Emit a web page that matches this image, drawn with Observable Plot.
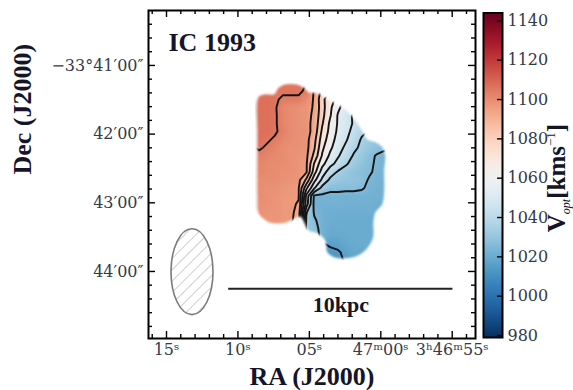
<!DOCTYPE html>
<html>
<head>
<meta charset="utf-8">
<script src="https://cdn.jsdelivr.net/npm/d3@7"></script>
<script src="https://cdn.jsdelivr.net/npm/@observablehq/plot@0.6"></script>
<style>
  html, body { margin: 0; padding: 0; background: #fff; }
  #wrap { position: relative; width: 573px; height: 390px; }
  #wrap svg { position: absolute; left: 0; top: 0; }
</style>
</head>
<body>
<div id="wrap"></div>
<script>
// ---------- data ----------
// RA in seconds after 3h46m (75 = 3h47m15s), Dec in arcmin south of -33°00'
const raTicks = [75, 70, 65, 60, 55];
const raTickLabels = ["15ˢ", "10ˢ", "05ˢ", "47ᵐ00ˢ", "3ʰ46ᵐ55ˢ"];
const raMinor = [54, 56, 57, 58, 59, 61, 62, 63, 64, 66, 67, 68, 69, 71, 72, 73, 74, 76];
const decTicks = [41, 42, 43, 44];
const decTickLabels = ["−33°41′00″", "42′00″", "43′00″", "44′00″"];
const decMinor = [40.4, 40.6, 40.8, 41.2, 41.4, 41.6, 41.8, 42.2, 42.4, 42.6, 42.8,
                  43.2, 43.4, 43.6, 43.8, 44.2, 44.4, 44.6, 44.8];
const raDomain = [76.26, 53.37];
const decDomain = [40.2, 44.976];

const velocityDomain = [979, 1144];
const colorbarTicks = [980, 1000, 1020, 1040, 1060, 1080, 1100, 1120, 1140];
const contourLevels = [1015, 1025, 1035, 1045, 1055, 1065, 1075, 1085, 1095, 1105];

// velocity grid (km/s), 17 columns (RA 68.8 -> 59.4) x 23 rows (Dec 41.2 -> 43.9)
const gridBounds = {ra1: 68.8, ra2: 59.4, dec1: 41.2, dec2: 43.9, cols: 17, rows: 23};
const _ = null;
const velocityRows = [
  [_, _, _, 1106, 1106, 1106, _, _, _, _, _, _, _, _, _, _, _],
  [1107, 1106, 1106, 1106, 1106, 1106, 1104, 1094, 1082, _, _, _, _, _, _, _, _],
  [1107, 1107, 1106, 1104, 1104, 1104, 1100, 1094, 1078, 1068, _, _, _, _, _, _, _],
  [1107, 1107, 1106, 1101, 1100, 1099, 1098, 1094, 1079, 1067, 1057, 1050, _, _, _, _, _],
  [1107, 1107, 1106, 1102, 1100, 1099, 1098, 1093, 1078, 1066, 1054, 1048, 1044, _, _, _, _],
  [1107, 1107, 1106, 1102, 1100, 1099, 1098, 1092, 1076, 1063, 1054, 1049, 1044, 1040, _, _, _],
  [1107, 1107, 1106, 1103, 1100, 1099, 1099, 1091, 1073, 1062, 1053, 1048, 1042, 1037, 1034, _, _],
  [1107, 1106, 1104, 1101, 1100, 1099, 1098, 1088, 1070, 1060, 1051, 1046, 1040, 1034, 1032, 1029, _],
  [1106, 1104, 1102, 1100, 1099, 1099, 1098, 1086, 1067, 1057, 1049, 1043, 1037, 1033, 1030, 1028, 1026],
  [1103, 1102, 1101, 1100, 1099, 1098, 1097, 1082, 1064, 1053, 1046, 1040, 1034, 1031, 1027, 1024, 1023],
  [1102, 1101, 1100, 1100, 1099, 1098, 1096, 1074, 1058, 1048, 1042, 1036, 1032, 1029, 1026, 1024, 1023],
  [1101, 1101, 1100, 1099, 1099, 1098, 1096, 1069, 1050, 1040, 1034, 1031, 1029, 1027, 1026, 1023, 1023],
  [1100, 1100, 1100, 1099, 1098, 1098, 1083, 1058, 1043, 1033, 1031, 1030, 1029, 1028, 1024, 1023, 1022],
  [1100, 1099, 1099, 1098, 1097, 1096, 1067, 1046, 1032, 1027, 1027, 1027, 1027, 1026, 1023, 1022, 1022],
  [1100, 1099, 1098, 1097, 1097, 1096, 1052, 1023, 1023, 1023, 1023, 1022, 1022, 1022, 1022, 1022, 1021],
  [1099, 1099, 1098, 1097, 1097, 1094, 1050, 1022, 1022, 1022, 1022, 1022, 1022, 1022, 1022, 1021, 1021],
  [1099, 1098, 1098, 1097, 1097, 1092, 1036, 1024, 1022, 1021, 1021, 1021, 1021, 1021, 1021, 1021, _],
  [1099, 1098, 1098, 1097, 1097, 1090, 1033, 1026, 1022, 1021, 1020, 1020, 1020, 1020, 1020, 1020, _],
  [_, _, _, _, _, 1090, 1032, 1028, 1022, 1020, 1020, 1020, 1020, 1020, 1020, _, _],
  [_, _, _, _, _, _, _, 1030, 1022, 1019, 1019, 1020, 1020, 1020, 1020, _, _],
  [_, _, _, _, _, _, _, _, 1014, 1016, 1017, 1019, 1020, 1020, 1020, _, _],
  [_, _, _, _, _, _, _, _, 1012, 1013, 1014, 1017, 1019, 1019, _, _, _],
  [_, _, _, _, _, _, _, _, _, 1012, 1013, 1016, 1017, _, _, _, _]
];

// outline of the detected emission (RA s, Dec arcmin)
const outlineRA  = [68.64, 68.50, 68.08, 67.45, 67.17, 66.75, 65.84, 65.35, 65.07, 64.37, 63.67, 62.97, 62.27, 61.71,
                    61.29, 60.94, 60.38, 59.90, 59.69, 59.76, 59.76, 59.90, 60.38, 60.52, 60.52, 60.87, 61.43, 62.13,
                    63.18, 63.74, 63.88, 64.37, 65.07, 65.35, 65.63, 66.12, 66.68, 67.73, 68.22, 68.57, 68.64, 68.64, 68.64];
const outlineDec = [41.51, 41.45, 41.42, 41.42, 41.33, 41.28, 41.28, 41.33, 41.39, 41.41, 41.50, 41.58, 41.68, 41.82,
                    41.96, 42.08, 42.12, 42.19, 42.31, 42.53, 42.82, 43.02, 43.14, 43.29, 43.49, 43.64, 43.75, 43.80,
                    43.80, 43.72, 43.55, 43.45, 43.40, 43.29, 43.20, 43.24, 43.29, 43.29, 43.23, 43.14, 42.89, 42.24, 41.95];

const beam = {ra: 73.18, dec: 44.01, widthRA: 2.94, heightDec: 1.25};
const scaleBar = [{ra1: 70.65, ra2: 54.95, dec: 44.25, label: "10kpc"}];
const galaxyName = "IC 1993";

// ---------- processing ----------
function fillGaps(rows) {
  let g = rows.map(r => r.slice());
  const h = g.length, w = g[0].length;
  let missing = true;
  while (missing) {
    missing = false;
    const next = g.map(r => r.slice());
    for (let j = 0; j < h; j++) for (let i = 0; i < w; i++) {
      if (g[j][i] != null) continue;
      let s = 0, n = 0;
      for (const [di, dj] of [[1,0],[-1,0],[0,1],[0,-1]]) {
        const a = i + di, b = j + dj;
        if (a >= 0 && a < w && b >= 0 && b < h && g[b][a] != null) { s += g[b][a]; n++; }
      }
      if (n) next[j][i] = s / n; else missing = true;
    }
    g = next;
  }
  return g.flat();
}
const velocity = fillGaps(velocityRows);
const outline = outlineRA.map((ra, i) => ({ra, dec: outlineDec[i]}));

const FONT = "'DejaVu Serif', 'Liberation Serif', serif";
const TITLE_FONT = "'Liberation Serif', 'DejaVu Serif', serif";
const INK = "#15152a";
const W = 573, H = 390;
const colorScale = {type: "linear", scheme: "rdbu", reverse: true, domain: velocityDomain};

const gridOpts = {
  width: gridBounds.cols, height: gridBounds.rows,
  x1: gridBounds.ra1, x2: gridBounds.ra2, y1: gridBounds.dec1, y2: gridBounds.dec2
};
const tick = {stroke: "black", strokeWidth: 1.4};

const main = Plot.plot({
  width: W, height: H,
  marginLeft: 148, marginRight: 98, marginTop: 10, marginBottom: 52,
  style: {fontFamily: FONT, fontSize: "16px", color: "#333a4a", background: "transparent", overflow: "visible"},
  x: {domain: raDomain, ticks: raTicks, tickFormat: d => raTickLabels[raTicks.indexOf(d)],
      tickSize: 0, tickPadding: 5, label: null},
  y: {domain: decDomain, reverse: true, ticks: decTicks, tickFormat: d => decTickLabels[decTicks.indexOf(d)],
      tickSize: 0, tickPadding: 5, label: null},
  color: colorScale,
  marks: [
    Plot.raster(velocity, {...gridOpts, fill: d => d}),
    Plot.contour(velocity, {...gridOpts, value: d => d, thresholds: contourLevels,
      fill: "none", stroke: "#141414", strokeWidth: 1.9}),
    Plot.line(outline, {x: "ra", y: "dec", curve: "catmull-rom-closed", stroke: "black"}),
    // scale bar
    Plot.ruleY(scaleBar, {y: "dec", x1: "ra1", x2: "ra2", stroke: "#222", strokeWidth: 2}),
    Plot.text(scaleBar, {x: d => (d.ra1 + d.ra2) / 2, y: "dec", text: "label", dy: 16,
      fontSize: 22, fontWeight: "bold", fontFamily: TITLE_FONT, fill: INK}),
    // ticks on all four sides, pointing inward
    Plot.ruleX(raTicks, {x: d => d, y1: decDomain[1], y2: decDomain[1], insetTop: -7, ...tick}),
    Plot.ruleX(raMinor, {x: d => d, y1: decDomain[1], y2: decDomain[1], insetTop: -4, ...tick}),
    Plot.ruleX(raTicks, {x: d => d, y1: decDomain[0], y2: decDomain[0], insetBottom: -7, ...tick}),
    Plot.ruleX(raMinor, {x: d => d, y1: decDomain[0], y2: decDomain[0], insetBottom: -4, ...tick}),
    Plot.ruleY(decTicks, {y: d => d, x1: raDomain[0], x2: raDomain[0], insetRight: -7, ...tick}),
    Plot.ruleY(decMinor, {y: d => d, x1: raDomain[0], x2: raDomain[0], insetRight: -4, ...tick}),
    Plot.ruleY(decTicks, {y: d => d, x1: raDomain[1], x2: raDomain[1], insetLeft: -7, ...tick}),
    Plot.ruleY(decMinor, {y: d => d, x1: raDomain[1], x2: raDomain[1], insetLeft: -4, ...tick}),
    // labels
    Plot.text([galaxyName], {frameAnchor: "top-left", textAnchor: "start", lineAnchor: "middle",
      dx: 20, dy: 32, fontSize: 26, fontWeight: "bold", fontFamily: TITLE_FONT, fill: INK}),
    Plot.text(["RA (J2000)"], {frameAnchor: "bottom", lineAnchor: "middle", dy: 38,
      fontSize: 26, fontWeight: "bold", fontFamily: TITLE_FONT, fill: INK}),
    Plot.text(["Dec (J2000)"], {frameAnchor: "left", lineAnchor: "middle", rotate: -90, dx: -126,
      fontSize: 26, fontWeight: "bold", fontFamily: TITLE_FONT, fill: INK}),
    Plot.frame({stroke: "black", strokeWidth: 2})
  ]
});

const colorbar = Plot.plot({
  width: W, height: H,
  marginLeft: 483, marginRight: 71, marginTop: 12.5, marginBottom: 53,
  style: {fontFamily: FONT, fontSize: "16px", color: "#333a4a", background: "transparent", overflow: "visible"},
  x: {domain: [0, 1], axis: null},
  y: {domain: velocityDomain, axis: null},
  color: colorScale,
  marks: [
    Plot.raster({fill: (x, y) => y, x1: 0, x2: 1, y1: velocityDomain[0], y2: velocityDomain[1]}),
    Plot.ruleY(colorbarTicks, {y: d => d, x1: 1, x2: 1, insetLeft: -5, ...tick}),
    Plot.text(colorbarTicks, {x: 1, y: d => d, text: d => String(d), dx: 5, textAnchor: "start", fill: "#333a4a"}),
    Plot.frame({stroke: "black", strokeWidth: 2})
  ]
});

const wrap = document.getElementById("wrap");
wrap.appendChild(main);
wrap.appendChild(colorbar);

// ---------- clip the field to the galaxy outline, add beam ----------
const NS = "http://www.w3.org/2000/svg";
const el = (name, attrs = {}) => {
  const e = document.createElementNS(NS, name);
  for (const k in attrs) e.setAttribute(k, attrs[k]);
  return e;
};
const defs = el("defs");
main.insertBefore(defs, main.firstChild);

const rasterG = main.querySelector('g[aria-label="raster"]');
const contourG = main.querySelector('g[aria-label="contour"]');
const outlineG = main.querySelector('g[aria-label="line"]');
if (rasterG && contourG && outlineG) {
  const outlinePath = outlineG.querySelector("path");
  const blur = el("filter", {id: "galSoft", x: "-10%", y: "-10%", width: "120%", height: "120%"});
  blur.appendChild(el("feGaussianBlur", {stdDeviation: "1.1"}));
  defs.appendChild(blur);
  const mask = el("mask", {id: "galMask", maskUnits: "userSpaceOnUse", x: 0, y: 0, width: W, height: H});
  const mg = el("g");
  if (outlineG.getAttribute("transform")) mg.setAttribute("transform", outlineG.getAttribute("transform"));
  mg.appendChild(el("path", {d: outlinePath.getAttribute("d"), fill: "white", stroke: "none", filter: "url(#galSoft)"}));
  mask.appendChild(mg);
  defs.appendChild(mask);
  const holder = el("g", {mask: "url(#galMask)"});
  rasterG.parentNode.insertBefore(holder, rasterG);
  holder.appendChild(rasterG);
  holder.appendChild(contourG);
  outlineG.remove();
}

// beam ellipse with hatching
const sx = main.scale("x"), sy = main.scale("y");
const cx = sx.apply(beam.ra), cy = sy.apply(beam.dec);
const rx = Math.abs(sx.apply(beam.ra + beam.widthRA / 2) - sx.apply(beam.ra - beam.widthRA / 2)) / 2;
const ry = Math.abs(sy.apply(beam.dec + beam.heightDec / 2) - sy.apply(beam.dec - beam.heightDec / 2)) / 2;
const pat = el("pattern", {id: "beamHatch", patternUnits: "userSpaceOnUse", width: 8, height: 8, patternTransform: "rotate(45)"});
pat.appendChild(el("line", {x1: 0, y1: 0, x2: 0, y2: 8, stroke: "#a0a0a0", "stroke-width": 1}));
defs.appendChild(pat);
main.appendChild(el("ellipse", {cx, cy, rx, ry, fill: "url(#beamHatch)", stroke: "#7a7a7a", "stroke-width": 1.6}));

// colour-bar title
const title = el("text", {transform: "translate(565,178) rotate(-90)", "text-anchor": "middle",
  "font-family": TITLE_FONT, "font-size": 25, "font-weight": "bold", fill: INK});
const parts = [
  ["V", {}],
  ["opt", {"font-size": 12, "font-style": "italic", "font-weight": "normal", dy: 5}],
  ["[kms", {dy: -5}],
  ["−1", {"font-size": 13, "font-weight": "normal", dy: -10}],
  ["]", {dy: 10}]
];
for (const [t, a] of parts) { const s = el("tspan", a); s.textContent = t; title.appendChild(s); }
colorbar.appendChild(title);
</script>
</body>
</html>
